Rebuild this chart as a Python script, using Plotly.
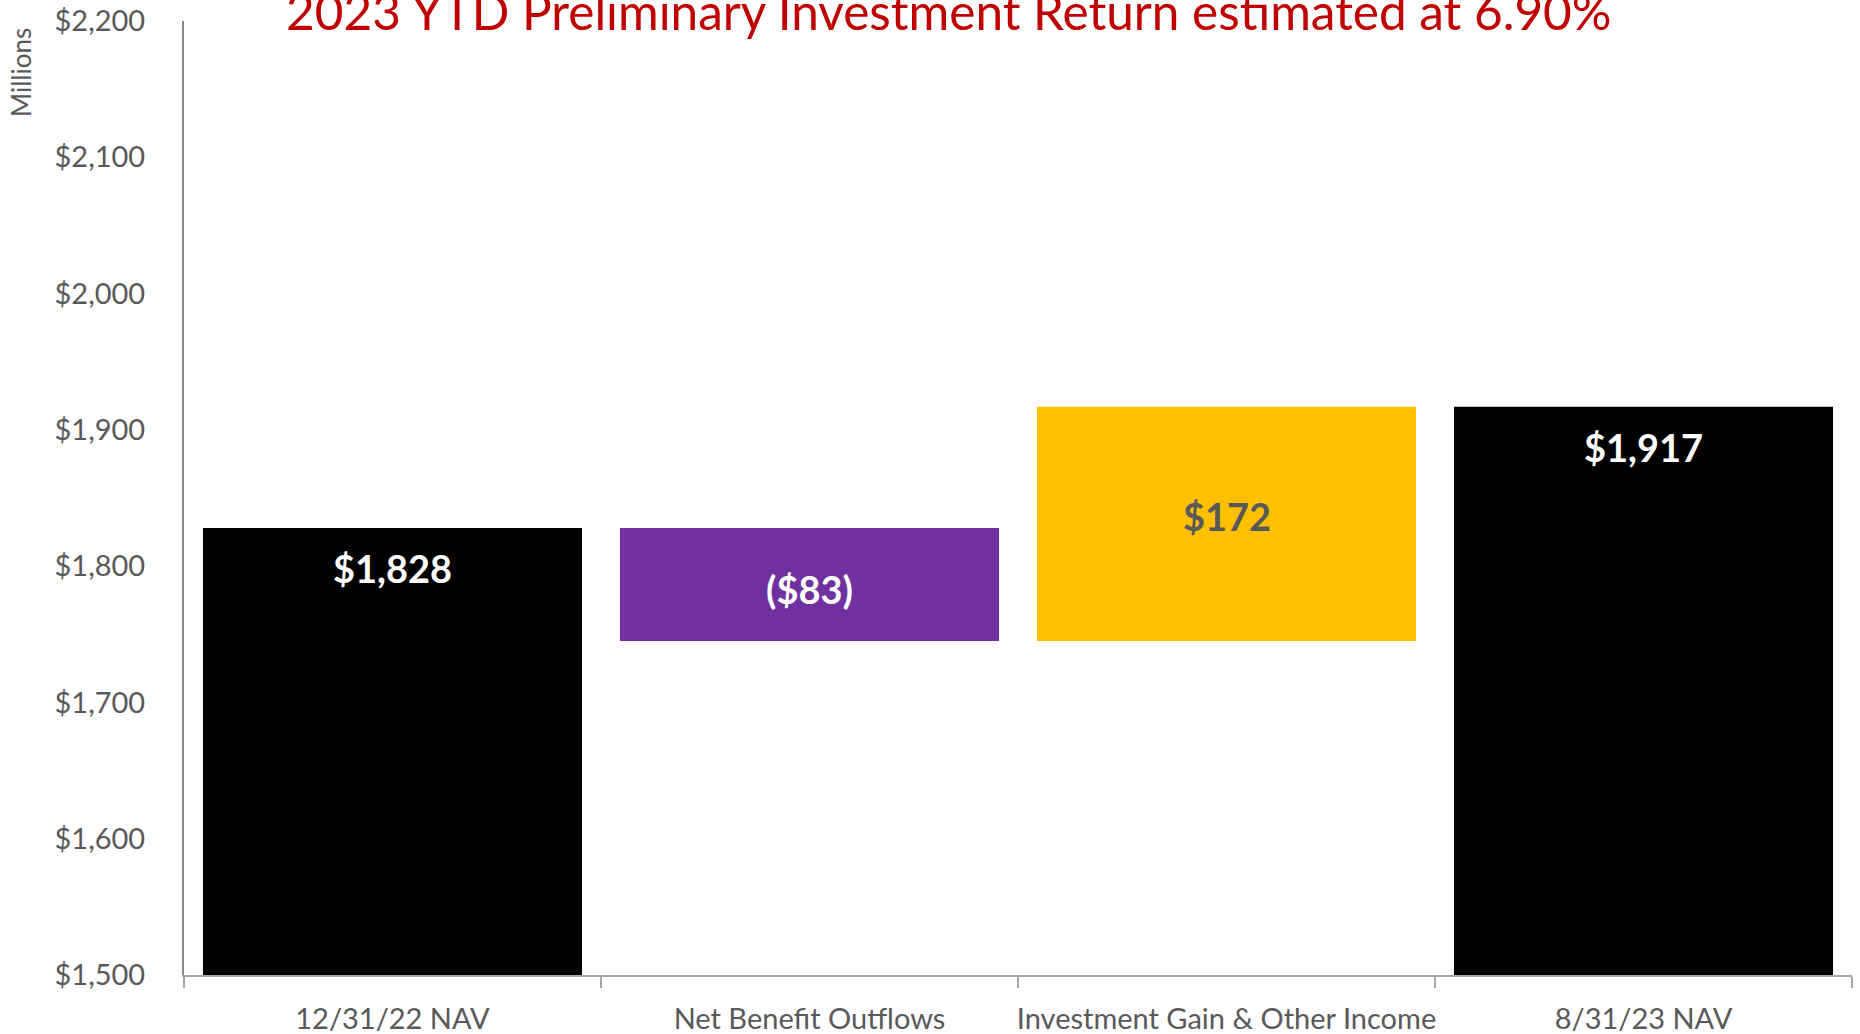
import plotly.graph_objects as go

categories = ["12/31/22 NAV", "Net Benefit Outflows", "Investment Gain & Other Income", "8/31/23 NAV"]
start_value = 1828
changes = [-83, 172]
end_value = 1917
labels = ["$1,828", "($83)", "$172", "$1,917"]
label_colors = ["#FFFFFF", "#FFFFFF", "#595959", "#FFFFFF"]
bar_colors = ["#000000", "#7030A0", "#FFC000", "#000000"]
y_ticks = [1500, 1600, 1700, 1800, 1900, 2000, 2100, 2200]
title_text = "2023 YTD Preliminary Investment Return estimated at 6.90%"

# waterfall geometry from data
heights = [start_value] + changes + [end_value]
bases = [0]
running = start_value
for c in changes:
    bases.append(running)
    running += c
bases.append(0)

L, R, T, B = 184, 8, 21, 59
W, H = 1860, 1034
PW, PH = W - L - R, H - T - B

fig = go.Figure()
fig.add_trace(go.Bar(
    x=categories, y=heights, base=bases,
    marker=dict(color=bar_colors, line=dict(width=0)),
    hoverinfo="skip", showlegend=False,
))

FONT = "Lato"
annotations = []
for i, (cat, h, b) in enumerate(zip(categories, heights, bases)):
    top = b + h if h >= 0 else b
    bot = b if h >= 0 else b + h
    if b == 0:
        y = top
        shift = -40
    else:
        y = (top + bot) / 2
        shift = -4 if h < 0 else 8
    annotations.append(dict(
        x=cat, y=y, xref="x", yref="y", text="<b>%s</b>" % labels[i],
        showarrow=False, yshift=shift, yanchor="middle",
        font=dict(family=FONT, size=38, color=label_colors[i]),
    ))

annotations.append(dict(
    x=(949 - L) / PW, y=1, xref="paper", yref="paper", text=title_text,
    showarrow=False, xanchor="center", yanchor="middle", yshift=10,
    font=dict(family=FONT, size=49.5, color="#C00000"),
))
annotations.append(dict(
    x=(21 - L) / PW, y=1 - (73 - T) / PH, xref="paper", yref="paper", text="Millions",
    showarrow=False, textangle=-90, xanchor="center", yanchor="middle",
    font=dict(family=FONT, size=26, color="#595959"),
))

fig.update_layout(
    width=W, height=H,
    margin=dict(l=L, r=R, t=T, b=B),
    paper_bgcolor="white", plot_bgcolor="white",
    bargap=0.091,
    annotations=annotations,
    font=dict(family=FONT, color="#595959"),
)
fig.update_yaxes(
    range=[1500, 2200], tickvals=y_ticks,
    ticktext=["${:,}".format(v) for v in y_ticks],
    showgrid=False, zeroline=False, automargin=False,
    showline=True, linecolor="#898989", linewidth=2,
    ticks="", tickfont=dict(family=FONT, size=29, color="#595959"),
    ticklabelstandoff=31,
)
fig.update_xaxes(
    showgrid=False, showline=True, linecolor="#A6A6A6", linewidth=2, automargin=False,
    ticks="outside", tickson="boundaries", ticklen=11, tickcolor="#A6A6A6", tickwidth=2,
    tickangle=0,
    tickfont=dict(family=FONT, size=29, color="#595959"),
    ticklabelstandoff=17,
)

fig.write_html("out.html", config={"displayModeBar": False},
               post_script="document.body.style.margin='0';")
